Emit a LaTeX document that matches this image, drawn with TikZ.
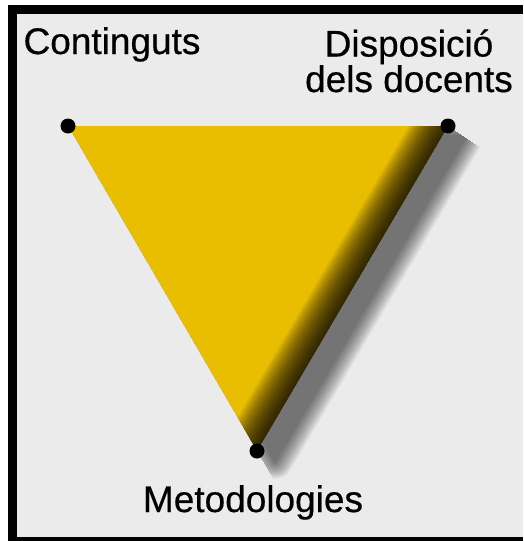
\documentclass[tikz,border=0pt]{standalone}
\usepackage{fontspec}
\setmainfont{Liberation Sans}
\newfontfamily\labelfont{Liberation Sans}[FakeBold=0.5]
\usetikzlibrary{calc}
\definecolor{panelgray}{HTML}{EBEBEB}
\definecolor{trigold}{HTML}{EABE00}
\tikzset{
  vertexdot/.style={circle, fill=black, inner sep=0pt, minimum size=15pt},
  cornerlabel/.style={font=\labelfont\fontsize{37}{34}\selectfont, text=black,
    inner sep=0pt, align=center, anchor=base},
  softshadow/.style={fill=black, draw=black, line join=round}
}
\begin{document}
\begin{tikzpicture}[x=1pt,y=-1pt]
  % frame and panel
  \useasboundingbox[fill=white] (0,0) rectangle (523,541);
  \fill[black] (8,5) rectangle (523,541);
  \fill[panelgray] (17,14) rectangle (523,537);

  % corners of the triangle
  \coordinate (cont) at (68,126);
  \coordinate (disp) at (448,126);
  \coordinate (meto) at (257,451);
  \coordinate (contsh) at ($(cont)+(18,10)$);
  \coordinate (dispsh) at ($(disp)+(18,10)$);
  \coordinate (metosh) at ($(meto)+(18,10)$);

  % shadow, only on the lower right side
  \begin{scope}
    \clip (cont) -- (disp) -- ($(disp)+(150,100)$) -- (600,620)
      -- ($(cont)!1.5!(meto)$) -- cycle;
    \foreach \w in {2,4,...,36} {
      \begin{scope}[transparency group, opacity=0.036]
        \filldraw[softshadow, line width=\w pt] (contsh) -- (dispsh) -- (metosh) -- cycle;
      \end{scope}
    }
  \end{scope}

  % triangle
  \fill[trigold] (cont) -- (disp) -- (meto) -- cycle;
  \begin{scope}
    \clip (cont) -- (disp) -- (meto) -- cycle;
    \foreach \w in {2,4,...,68}
      \draw[line width=\w pt, black, opacity=0.04]
        ($(disp)!-0.2!(meto)$) -- ($(meto)!-0.1!(disp)$);
  \end{scope}

  \node[vertexdot] (contdot) at (cont) {};
  \node[vertexdot] (dispdot) at (disp) {};
  \node[vertexdot] (metodot) at (meto) {};

  % labels
  \node[cornerlabel] (contlabel) at (112,54) {Continguts};
  \node[cornerlabel] (displabel) at (409,92) {Disposició\\dels docents};
  \node[cornerlabel] (metolabel) at (253,512) {Metodologies};
\end{tikzpicture}
\end{document}
